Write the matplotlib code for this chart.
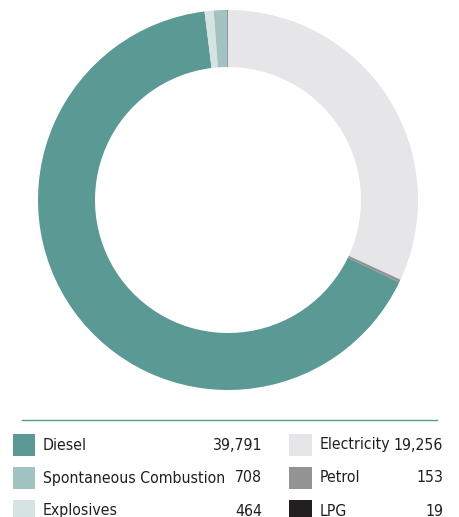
import matplotlib
matplotlib.use("Agg")
import matplotlib.pyplot as plt
from matplotlib.patches import Rectangle
from matplotlib import font_manager
from matplotlib.font_manager import FontProperties

# pick a condensed font if available
cond = [f for f in font_manager.fontManager.ttflist
        if ("Narrow" in f.name or "Condensed" in f.name or
            (isinstance(f.stretch, str) and "condensed" in f.stretch) or
            (isinstance(f.stretch, int) and f.stretch < 500))
        and f.style == "normal" and f.weight in (400, "normal", "regular")]
if cond:
    fp = FontProperties(fname=cond[0].fname)
    fs = 11.3
else:
    fp = FontProperties(family="Roboto")
    fs = 10.8

# Data (clockwise from top)
pie_labels = ["Electricity", "Petrol", "Diesel", "Explosives", "Spontaneous Combustion", "LPG"]
pie_values = [19256, 153, 39791, 464, 708, 19]
pie_colors = ["#e6e6e8", "#939396", "#5b9995", "#d5e3e3", "#a3c2c2", "#231f20"]

# Legend layout order
legend_left = ["Diesel", "Spontaneous Combustion", "Explosives"]
legend_right = ["Electricity", "Petrol", "LPG"]

W, H = 460, 517
fig = plt.figure(figsize=(W / 100, H / 100), dpi=100)

cx, cy, R = 228, 200, 190
ax = fig.add_axes([(cx - R) / W, 1 - (cy + R) / H, 2 * R / W, 2 * R / H])
ax.pie(pie_values, colors=pie_colors, startangle=90, counterclock=False,
       radius=1, wedgeprops=dict(width=0.30, linewidth=0))
ax.set_xlim(-1, 1)
ax.set_ylim(-1, 1)
ax.set_aspect("equal")
ax.axis("off")

def fx(x): return x / W
def fy(y): return 1 - y / H

# separator line
fig.add_artist(plt.Line2D([fx(22), fx(437)], [fy(420), fy(420)], color="#5b9995", lw=1.0))

val = dict(zip(pie_labels, pie_values))
col = dict(zip(pie_labels, pie_colors))
rows_y = [445, 478, 511]
for i, name in enumerate(legend_left):
    y = rows_y[i]
    fig.add_artist(Rectangle((fx(13), fy(y + 11)), 22 / W, 22 / H, color=col[name], lw=0))
    fig.text(fx(43), fy(y), name, fontproperties=fp, fontsize=fs, va="center", ha="left", color="#231f20")
    fig.text(fx(262), fy(y), f"{val[name]:,}", fontproperties=fp, fontsize=fs, va="center", ha="right", color="#231f20")
for i, name in enumerate(legend_right):
    y = rows_y[i]
    fig.add_artist(Rectangle((fx(289), fy(y + 11)), 23 / W, 22 / H, color=col[name], lw=0))
    fig.text(fx(320), fy(y), name, fontproperties=fp, fontsize=fs, va="center", ha="left", color="#231f20")
    fig.text(fx(443), fy(y), f"{val[name]:,}", fontproperties=fp, fontsize=fs, va="center", ha="right", color="#231f20")

fig.savefig("out.png", dpi=100)
